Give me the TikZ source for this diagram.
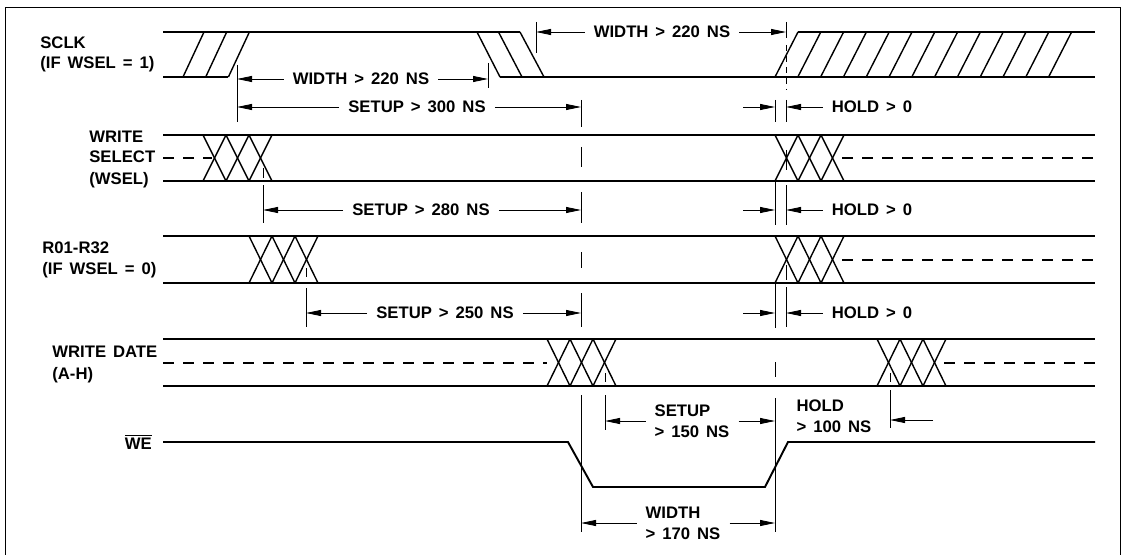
\documentclass[tikz,border=0pt]{standalone}
\usepackage{fontspec}
\setmainfont{Liberation Sans}[WordSpace=1.5]
\usetikzlibrary{arrows.meta}

\begin{document}
\begin{tikzpicture}[x=0.2mm, y=-0.2mm,
    sig/.style={line width=1.1pt},
    hatch/.style={line width=0.8pt},
    hiz/.style={line width=0.7pt, dash pattern=on 2.2mm off 1.8mm},
    tick/.style={line width=0.5pt},
    dim/.style={line width=0.5pt, -{Triangle[length=3mm, width=1.2mm]}},
    lbl/.style={font=\bfseries\fontsize{9.5}{12}\selectfont, inner sep=0pt, anchor=west},
    dlbl/.style={font=\bfseries\fontsize{9.5}{12}\selectfont, inner xsep=5pt, inner ysep=1pt, align=left}
]
\useasboundingbox (0,0) rectangle (1127,555);
\draw[line width=0.5pt] (5,555) -- (5,7) -- (1120,7) -- (1120,555);

%% signal names
\node[lbl] (L1) at (40,43) {SCLK};
\node[lbl] (L2) at (40,64) {(IF WSEL = 1)};
\node[lbl] (L3) at (89,137) {WRITE};
\node[lbl] (L4) at (89,157) {SELECT};
\node[lbl] (L5) at (89,180) {(WSEL)};
\node[lbl] (L6) at (42,248) {R01-R32};
\node[lbl] (L7) at (42,270) {(IF WSEL = 0)};
\node[lbl] (L8) at (52,352) {WRITE DATE};
\node[lbl] (L9) at (52,375) {(A-H)};
\node[lbl, anchor=east] (L10) at (152,442) {$\overline{\mbox{WE}}$};

%% SCLK
\draw[sig] (163,32) -- (520,32);
\draw[sig] (798,32) -- (1095,32);
\draw[sig] (163,77) -- (228,77);
\draw[sig] (500,77) -- (1095,77);
\foreach \k in {0,1,2}{
  \draw[hatch] ({183+22.7*\k},77) -- ({204+22.7*\k},32);
  \draw[hatch] ({477+21.5*\k},32) -- ({500+22*\k},77);
}
\foreach \k in {0,...,12}{
  \draw[hatch] ({775+22.8*\k},77) -- ({798+22.8*\k},32);
}

%% bus rows (WSEL, R01-R32, write data)
\foreach \t/\b in {135/181, 236/283, 339/386}{
  \draw[sig] (163,\t) -- (1095,\t);
  \draw[sig] (163,\b) -- (1095,\b);
}
% crossings
\foreach \x/\t/\b in {203/135/181, 775/135/181, 249/236/283, 775/236/283, 547/339/386, 877/339/386}{
  \foreach \k in {0,1,2}{
    \draw[hatch] ({\x+23*\k},\t) -- ({\x+23*(\k+1)},\b);
    \draw[hatch] ({\x+23*(\k+1)},\t) -- ({\x+23*\k},\b);
  }
}
% floating levels
\draw[hiz] (163,158) -- (212,158);
\draw[hiz] (842,158) -- (1095,158);
\draw[hiz] (842,260) -- (1095,260);
\draw[hiz] (163,363) -- (547,363);
\draw[hiz] (944,363) -- (1095,363);

%% WE
\draw[sig] (163,442) -- (568,442) -- (593,487) -- (765,487) -- (788,442) -- (1095,442);

%% timing marks
\foreach \n/\x in {ta/237, tb/488, tc/536, td/581, te/775, tf/786, tg/263, th/306, ti/605, tj/890}{
  \coordinate (\n) at (\x,0);
}
\foreach \x/\a/\b in {237/65/122, 488/63/88, 536/22/53,
    581/100/127, 581/147/167, 581/192/223, 581/252/268, 581/293/327, 581/395/532,
    786/22/38, 786/100/122, 786/150/170, 786/185/225, 786/265/280, 786/287/327,
    775/100/122, 775/182/225, 775/282/328, 775/362/377, 775/398/532,
    263/168/178, 263/185/223, 306/268/277, 306/288/327,
    605/373/382, 605/395/430, 890/373/382, 890/390/428}{
  \draw[tick] (\x,\a) -- (\x,\b);
}
\draw[tick, dash pattern=on 1.2mm off 1mm] (786,45) -- (786,90);

%% dimensions
\node[dlbl] (D1) at (662,32) {WIDTH > 220 NS};
\draw[dim] (D1.west) -- (D1.west -| tc);
\draw[dim] (D1.east) -- (D1.east -| tf);
\node[dlbl] (D2) at (361,79) {WIDTH > 220 NS};
\draw[dim] (D2.west) -- (D2.west -| ta);
\draw[dim] (D2.east) -- (D2.east -| tb);
\node[dlbl] (D3) at (417,107) {SETUP > 300 NS};
\draw[dim] (D3.west) -- (D3.west -| ta);
\draw[dim] (D3.east) -- (D3.east -| td);
\node[dlbl] (D4) at (421,210) {SETUP > 280 NS};
\draw[dim] (D4.west) -- (D4.west -| tg);
\draw[dim] (D4.east) -- (D4.east -| td);
\node[dlbl] (D5) at (445,313) {SETUP > 250 NS};
\draw[dim] (D5.west) -- (D5.west -| th);
\draw[dim] (D5.east) -- (D5.east -| td);
% hold > 0
\foreach \y/\n in {107/H1, 210/H2, 313/H3}{
  \node[dlbl] (\n) at (872,\y) {HOLD > 0};
  \draw[dim] (\n.west) -- (\n.west -| tf);
  \coordinate (\n a) at (743,\y);
  \draw[dim] (\n a) -- (\n a -| te);
}
% WE timing
\node[dlbl] (D6) at (692,421) {SETUP\\> 150 NS};
\draw[dim] (D6.west) -- (D6.west -| ti);
\draw[dim] (D6.east) -- (D6.east -| te);
\node[dlbl] (D7) at (834,416) {HOLD\\> 100 NS};
\coordinate (D7a) at (933,420);
\draw[dim] (D7a) -- (D7a -| tj);
\node[dlbl] (D8) at (683,523) {WIDTH\\> 170 NS};
\draw[dim] (D8.west) -- (D8.west -| td);
\draw[dim] (D8.east) -- (D8.east -| te);
\end{tikzpicture}
\end{document}
